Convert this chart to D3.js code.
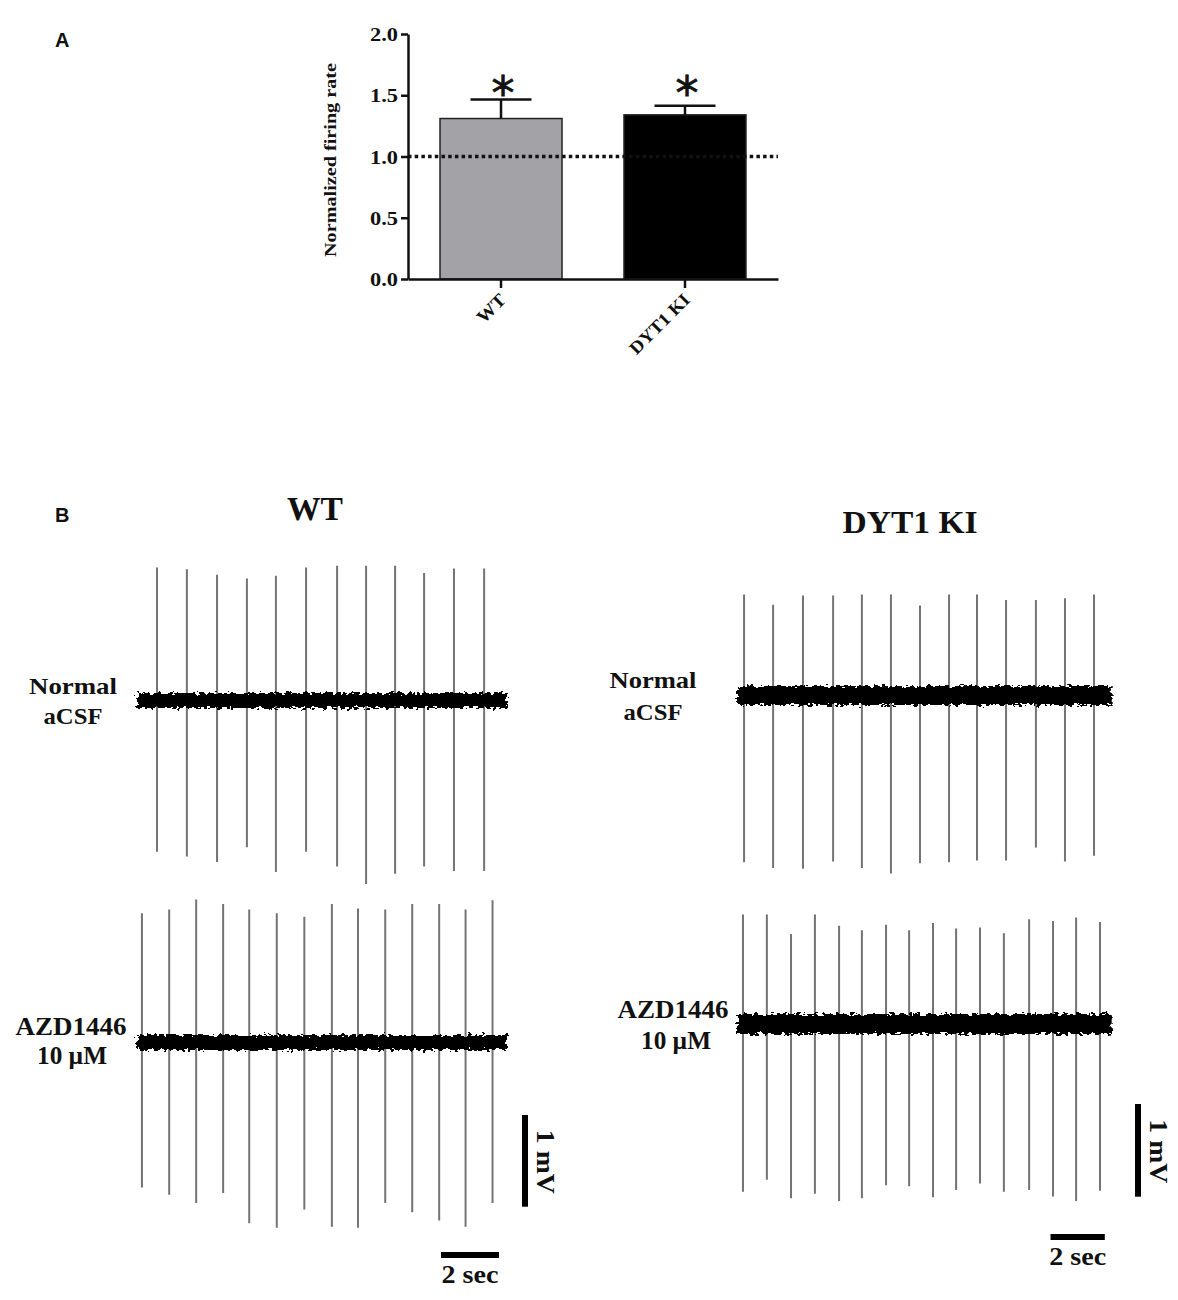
<!DOCTYPE html>
<html>
<head>
<meta charset="utf-8">
<script src="https://cdn.jsdelivr.net/npm/d3@7"></script>
<style>
body { margin: 0; background: #fff; }
svg text { font-family: "Liberation Serif", "Times New Roman", serif; font-weight: bold; fill: #111; }
</style>
</head>
<body>
<script>
'use strict';

// ---- panel A: normalized firing rate ----
var groups = ["WT", "DYT1 KI"];
var firingMean = [1.31, 1.34];
var firingSem = [0.155, 0.075];
var barFill = ["#a3a3a7", "#000000"];
var yTicks = [0, 0.5, 1.0, 1.5, 2.0];
var refLevel = 1.0;
var starLevel = 1.6;

// ---- panel B: spike times (sec) and spike peak / trough (mV from baseline) ----
var wtNormalTime = [0.69, 1.72, 2.76, 3.79, 4.79, 5.83, 6.90, 7.90, 8.90, 9.90, 10.93, 11.97];
var wtNormalUp = [1.45, 1.43, 1.37, 1.33, 1.36, 1.45, 1.47, 1.47, 1.47, 1.39, 1.44, 1.44];
var wtNormalDown = [1.65, 1.70, 1.76, 1.60, 1.87, 1.65, 1.81, 2.00, 1.89, 1.81, 1.86, 1.86];

var wtAzdTime = [0.17, 1.11, 2.04, 2.97, 3.87, 4.82, 5.77, 6.72, 7.62, 8.56, 9.49, 10.42, 11.33, 12.26];
var wtAzdUp = [1.41, 1.45, 1.56, 1.51, 1.45, 1.41, 1.37, 1.51, 1.46, 1.45, 1.51, 1.51, 1.45, 1.55];
var wtAzdDown = [1.58, 1.66, 1.75, 1.64, 1.97, 2.02, 1.82, 2.01, 2.02, 1.75, 1.85, 1.94, 2.01, 1.75];

var kiNormalTime = [0.26, 1.33, 2.43, 3.54, 4.60, 5.67, 6.74, 7.81, 8.84, 9.91, 11.01, 12.08, 13.15];
var kiNormalUp = [1.09, 0.98, 1.08, 1.08, 1.09, 1.09, 0.97, 1.09, 1.09, 1.03, 1.03, 1.05, 1.09];
var kiNormalDown = [1.80, 1.86, 1.87, 1.79, 1.86, 1.92, 1.81, 1.80, 1.78, 1.78, 1.64, 1.79, 1.73];

var kiAzdTime = [0.22, 1.10, 1.99, 2.87, 3.76, 4.60, 5.49, 6.34, 7.22, 8.07, 8.95, 9.83, 10.76, 11.64, 12.49, 13.37];
var kiAzdUp = [1.18, 1.18, 0.97, 1.18, 1.06, 1.01, 1.07, 1.01, 1.09, 1.03, 1.04, 0.98, 1.13, 1.11, 1.15, 1.10];
var kiAzdDown = [1.81, 1.68, 1.88, 1.83, 1.91, 1.88, 1.74, 1.75, 1.87, 1.79, 1.72, 1.81, 1.79, 1.86, 1.91, 1.80];

var columnTitles = ["WT", "DYT1 KI"];
var conditionLabels = [["Normal", "aCSF"], ["AZD1446", "10 \u00b5M"]];
var timeBar = 2;   // sec
var voltBar = 1;   // mV

var width = 1178;
var height = 1300;

var svg = d3.select("body").append("svg")
    .attr("width", width)
    .attr("height", height);

var defs = svg.append("defs");
var noise = defs.append("filter")
    .attr("id", "noise")
    .attr("x", "-3%").attr("y", "-80%")
    .attr("width", "106%").attr("height", "260%");
noise.append("feTurbulence")
    .attr("type", "fractalNoise")
    .attr("baseFrequency", "0.22 0.35")
    .attr("numOctaves", 2)
    .attr("seed", 7)
    .attr("result", "turb");
noise.append("feDisplacementMap")
    .attr("in", "SourceGraphic")
    .attr("in2", "turb")
    .attr("scale", 9)
    .attr("xChannelSelector", "R")
    .attr("yChannelSelector", "G");

function label(g, str, x, y, size, len, anchor) {
    var t = g.append("text")
        .attr("x", x)
        .attr("y", y)
        .attr("font-size", size)
        .attr("text-anchor", anchor || "middle")
        .text(str);
    if (len) t.attr("textLength", len).attr("lengthAdjust", "spacingAndGlyphs");
    return t;
}

// panel letters
svg.append("text").attr("x", 55).attr("y", 47)
    .style("font-family", "'Liberation Sans', Arial, sans-serif")
    .attr("font-size", 20).text("A");
svg.append("text").attr("x", 55).attr("y", 522)
    .style("font-family", "'Liberation Sans', Arial, sans-serif")
    .attr("font-size", 20).text("B");

// ================= panel A =================
var gA = svg.append("g");

var y = d3.scaleLinear()
    .domain([0, 2])
    .range([279, 34]);

var x = d3.scaleBand()
    .domain(groups)
    .range([408, 778])
    .paddingInner(0.337)
    .paddingOuter(0.174);

var bars = groups.map(function (g, i) {
    return { group: g, mean: firingMean[i], sem: firingSem[i], fill: barFill[i] };
});

gA.selectAll("rect.bar")
    .data(bars)
    .enter().append("rect")
    .attr("class", "bar")
    .attr("x", d => x(d.group))
    .attr("y", d => y(d.mean))
    .attr("width", x.bandwidth())
    .attr("height", d => y(0) - y(d.mean))
    .attr("fill", d => d.fill)
    .attr("stroke", "#222")
    .attr("stroke-width", 1.5);

// error bars (upper only)
gA.selectAll("line.err")
    .data(bars)
    .enter().append("line")
    .attr("class", "err")
    .attr("x1", d => x(d.group) + x.bandwidth() / 2)
    .attr("x2", d => x(d.group) + x.bandwidth() / 2)
    .attr("y1", d => y(d.mean))
    .attr("y2", d => y(d.mean + d.sem))
    .attr("stroke", "#111")
    .attr("stroke-width", 2.5);

gA.selectAll("line.cap")
    .data(bars)
    .enter().append("line")
    .attr("class", "cap")
    .attr("x1", d => x(d.group) + x.bandwidth() / 4)
    .attr("x2", d => x(d.group) + x.bandwidth() * 3 / 4)
    .attr("y1", d => y(d.mean + d.sem))
    .attr("y2", d => y(d.mean + d.sem))
    .attr("stroke", "#111")
    .attr("stroke-width", 2.5);

// dotted reference line at 1.0
gA.append("line")
    .attr("x1", 408)
    .attr("x2", 778)
    .attr("y1", y(refLevel))
    .attr("y2", y(refLevel))
    .attr("stroke", "#111")
    .attr("stroke-width", 3.5)
    .attr("stroke-dasharray", "3.5 3.2");

// asterisks
gA.selectAll("text.star")
    .data(bars)
    .enter().append("text")
    .attr("class", "star")
    .attr("x", d => x(d.group) + x.bandwidth() / 2 + 2)
    .attr("y", y(starLevel) + 26)
    .attr("text-anchor", "middle")
    .attr("font-size", 46)
    .style("font-family", "'DejaVu Sans', sans-serif")
    .style("font-weight", "normal")
    .style("stroke", "#111")
    .style("stroke-width", 0.8)
    .text("*");

var yAxisGroup = gA.append("g")
    .attr("transform", "translate(408,0)");
var yAxis = d3.axisLeft(y)
    .tickValues(yTicks)
    .tickFormat(d3.format(".1f"))
    .tickSize(7)
    .tickSizeOuter(0);
yAxis(yAxisGroup);

var xAxisGroup = gA.append("g")
    .attr("transform", "translate(0,279)");
var xAxis = d3.axisBottom(x)
    .tickSize(9)
    .tickSizeOuter(0);
xAxis(xAxisGroup);

[yAxisGroup, xAxisGroup].forEach(function (g) {
    g.attr("font-family", null).attr("font-size", null);
    g.select(".domain").attr("stroke", "#111").attr("stroke-width", 2.5);
    g.selectAll(".tick line").attr("stroke", "#111").attr("stroke-width", 2.5);
});

yAxisGroup.selectAll(".tick text")
    .attr("x", -10)
    .attr("dy", "0.36em")
    .attr("font-size", 18.5)
    .attr("textLength", 28)
    .attr("lengthAdjust", "spacingAndGlyphs")
    .style("fill", "#111");

var catLen = { "WT": 33, "DYT1 KI": 77 };
xAxisGroup.selectAll(".tick text")
    .attr("x", 0).attr("y", 0).attr("dy", 0)
    .attr("text-anchor", "end")
    .attr("transform", "translate(6,22) rotate(-45)")
    .attr("font-size", 18)
    .attr("textLength", d => catLen[d])
    .attr("lengthAdjust", "spacingAndGlyphs")
    .style("fill", "#111");

label(gA, "Normalized firing rate", 0, 0, 17.5, 194)
    .attr("transform", "translate(336,160) rotate(-90)");

// ================= panel B =================
var gB = svg.append("g");

var traces = [
    { time: wtNormalTime, up: wtNormalUp, down: wtNormalDown, x0: 137, dur: 12.76, base: 700.5, pxS: 29, pxMv: 91.7, band: 15 },
    { time: wtAzdTime, up: wtAzdUp, down: wtAzdDown, x0: 137, dur: 12.76, base: 1042.5, pxS: 29, pxMv: 91.7, band: 15 },
    { time: kiNormalTime, up: kiNormalUp, down: kiNormalDown, x0: 737, dur: 13.8, base: 695.5, pxS: 27.15, pxMv: 92.7, band: 19 },
    { time: kiAzdTime, up: kiAzdUp, down: kiAzdDown, x0: 737, dur: 13.8, base: 1024, pxS: 27.15, pxMv: 92.7, band: 20 }
];

traces.forEach(function (tr) {
    tr.x = d3.scaleLinear().domain([0, tr.dur]).range([tr.x0, tr.x0 + tr.dur * tr.pxS]);
    tr.y = d3.scaleLinear().domain([-1, 1]).range([tr.base + tr.pxMv, tr.base - tr.pxMv]);

    var spikes = tr.time.map(function (t, i) {
        return { t: t, up: tr.up[i], down: tr.down[i] };
    });

    var g = gB.append("g");
    g.selectAll("line.spike")
        .data(spikes)
        .enter().append("line")
        .attr("class", "spike")
        .attr("x1", d => tr.x(d.t))
        .attr("x2", d => tr.x(d.t))
        .attr("y1", d => tr.y(d.up))
        .attr("y2", d => tr.y(-d.down))
        .attr("stroke", "#737373")
        .attr("stroke-width", 2);

    g.append("rect")
        .attr("x", tr.x(0))
        .attr("y", tr.y(0) - tr.band / 2)
        .attr("width", tr.x(tr.dur) - tr.x(0))
        .attr("height", tr.band)
        .attr("fill", "#050505")
        .attr("filter", "url(#noise)");
});

// column titles
label(gB, columnTitles[0], 315, 520, 34, 56);
label(gB, columnTitles[1], 910, 533, 31, 135);

// condition labels
label(gB, conditionLabels[0][0], 73, 694, 24, 88);
label(gB, conditionLabels[0][1], 73, 724, 24, 59);
label(gB, conditionLabels[1][0], 71, 1035, 25, 111);
label(gB, conditionLabels[1][1], 72, 1064, 25, 70);

label(gB, conditionLabels[0][0], 653, 688, 24, 87);
label(gB, conditionLabels[0][1], 653, 720, 24, 59);
label(gB, conditionLabels[1][0], 673, 1018, 25, 111);
label(gB, conditionLabels[1][1], 676, 1049, 25, 70);

// scale bars: 2 sec and 1 mV, sized through each trace's scales
var scaleBars = [
    { tr: traces[1], tx: 441, ty: 1255, vx: 525, vy: 1115 },
    { tr: traces[3], tx: 1050.5, ty: 1237, vx: 1138, vy: 1104 }
];

scaleBars.forEach(function (sb) {
    var len = sb.tr.x(timeBar) - sb.tr.x(0);
    var vlen = sb.tr.y(0) - sb.tr.y(voltBar);
    gB.append("line")
        .attr("x1", sb.tx).attr("x2", sb.tx + len)
        .attr("y1", sb.ty).attr("y2", sb.ty)
        .attr("stroke", "#000").attr("stroke-width", 6);
    label(gB, timeBar + " sec", sb.tx + len / 2, sb.ty + 28, 26, 57);

    gB.append("line")
        .attr("x1", sb.vx).attr("x2", sb.vx)
        .attr("y1", sb.vy).attr("y2", sb.vy + vlen)
        .attr("stroke", "#000").attr("stroke-width", 6);
    label(gB, voltBar + " mV", 0, 0, 26, 64)
        .attr("transform", "translate(" + (sb.vx + 12) + "," + (sb.vy + vlen / 2 + 1) + ") rotate(90)");
});
</script>
</body>
</html>
